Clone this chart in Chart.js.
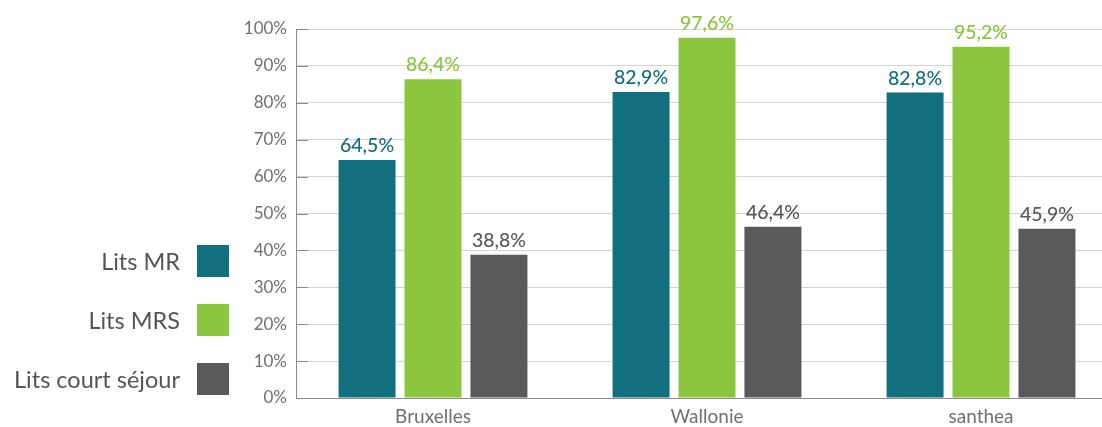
<!DOCTYPE html>
<html lang="fr">
<head>
<meta charset="utf-8">
<title>Taux d'occupation des lits</title>
<script src="https://cdn.jsdelivr.net/npm/chart.js@4/dist/chart.umd.min.js"></script>
<style>
    html, body { margin: 0; padding: 0; background: #fff; overflow: hidden; }
    #wrap { position: relative; width: 1102px; height: 427px; overflow: hidden; }
    #occupation { position: absolute; left: 0; top: 0; }
    #legend {
        position: absolute; left: 0; top: 245px; width: 229px;
        font-family: 'Lato', sans-serif; font-size: 23.5px; color: #555;
    }
    #legend .row {
        display: flex; justify-content: flex-end; align-items: center;
        height: 32px; margin-bottom: 27px;
    }
    #legend .box { width: 32px; height: 32px; margin-left: 17px; }
</style>
</head>
<body>
<div id="wrap">
    <canvas id="occupation" width="1118" height="427"></canvas>
    <div id="legend"></div>
</div>
<script>
/* Occupancy rates per region (%) */
const regions = ['Bruxelles', 'Wallonie', 'santhea'];
const litsMR = [64.5, 82.9, 82.8];
const litsMRS = [86.4, 97.6, 95.2];
const litsCourtSejour = [38.8, 46.4, 45.9];
const yTicks = [0, 10, 20, 30, 40, 50, 60, 70, 80, 90, 100];

const colors = {
    mr: '#126f7d',
    mrs: '#8cc63f',
    court: '#58595b',
    courtLabel: '#58595b',
    tick: '#707070',
    grid: '#d4d4d4',
    axis: '#8a8a8a',
};

const FONT = "'Lato', sans-serif";

/* Value labels above each bar, same colour as the bar */
const valueLabels = {
    id: 'valueLabels',
    afterDatasetsDraw(chart) {
        const ctx = chart.ctx;
        ctx.save();
        ctx.font = `500 19.5px ${FONT}`;
        ctx.textAlign = 'center';
        ctx.textBaseline = 'middle';
        chart.data.datasets.forEach((ds, i) => {
            const meta = chart.getDatasetMeta(i);
            ctx.fillStyle = ds.labelColor || ds.backgroundColor;
            meta.data.forEach((bar, j) => {
                const txt = ds.data[j].toFixed(1).replace('.', ',') + '%';
                ctx.fillText(txt, bar.x, bar.y - 14);
            });
        });
        ctx.restore();
    },
};

/* Short dark tick marks on the inner side of the y axis */
const innerTicks = {
    id: 'innerTicks',
    beforeDatasetsDraw(chart) {
        const ctx = chart.ctx;
        const y = chart.scales.y;
        const left = chart.chartArea.left;
        ctx.save();
        ctx.strokeStyle = colors.axis;
        ctx.lineWidth = 1;
        y.ticks.forEach(t => {
            const py = Math.round(y.getPixelForValue(t.value)) + 0.5;
            ctx.beginPath();
            ctx.moveTo(left, py);
            ctx.lineTo(left + 12, py);
            ctx.stroke();
        });
        ctx.restore();
    },
};

const chart = new Chart(document.getElementById('occupation'), {
    type: 'bar',
    data: {
        labels: regions,
        datasets: [
            { label: 'Lits MR', data: litsMR, backgroundColor: colors.mr },
            { label: 'Lits MRS', data: litsMRS, backgroundColor: colors.mrs },
            { label: 'Lits court séjour', data: litsCourtSejour, backgroundColor: colors.court, labelColor: colors.courtLabel },
        ],
    },
    options: {
        responsive: false,
        animation: false,
        categoryPercentage: 0.722,
        barPercentage: 0.864,
        layout: { padding: { top: 29, right: 0, left: 0, bottom: 0 } },
        plugins: {
            legend: { display: false },
            tooltip: { enabled: false },
        },
        scales: {
            x: {
                grid: { display: false, drawTicks: false },
                border: { color: colors.axis, width: 1 },
                ticks: {
                    font: { family: FONT, size: 19 },
                    color: colors.tick,
                    padding: 7,
                },
                afterFit(scale) { scale.height = 29; },
            },
            y: {
                min: 0,
                max: 100,
                afterBuildTicks(scale) {
                    scale.ticks = yTicks.map(v => ({ value: v }));
                },
                grid: { color: colors.grid, lineWidth: 1, drawTicks: false },
                border: { color: colors.axis, width: 1 },
                ticks: {
                    font: { family: FONT, size: 17 },
                    color: colors.tick,
                    padding: 9,
                    callback: v => v + '%',
                },
                afterFit(scale) { scale.width = 296; },
            },
        },
    },
    plugins: [innerTicks, valueLabels],
});

/* Legend on the left, text right-aligned next to the colour box */
const legend = document.getElementById('legend');
chart.data.datasets.forEach(ds => {
    const row = document.createElement('div');
    row.className = 'row';
    const label = document.createElement('span');
    label.textContent = ds.label;
    const box = document.createElement('span');
    box.className = 'box';
    box.style.background = ds.backgroundColor;
    row.appendChild(label);
    row.appendChild(box);
    legend.appendChild(row);
});
</script>
</body>
</html>
